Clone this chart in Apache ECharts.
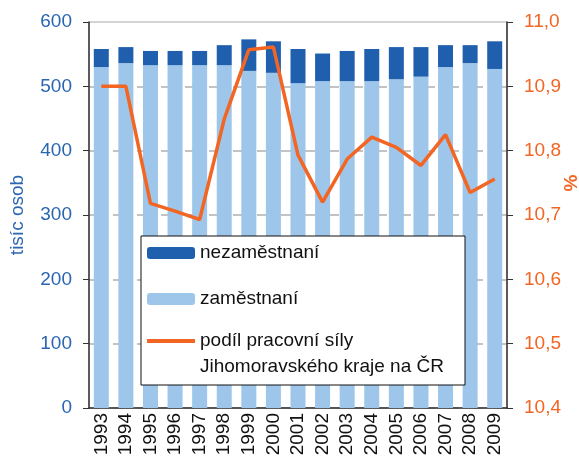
<!DOCTYPE html>
<html>
<head>
<meta charset="utf-8">
<script src="https://cdn.jsdelivr.net/npm/echarts@6/dist/echarts.min.js"></script>
<style>
html,body{margin:0;padding:0;background:#fff;}
#chart{width:579px;height:464px;}
</style>
</head>
<body>
<div id="chart"></div>
<script>
var roky = ['1993','1994','1995','1996','1997','1998','1999','2000','2001','2002','2003','2004','2005','2006','2007','2008','2009'];
// tisíc osob
var zamestnani = [530,536,533,533,533,533,524,521,505,508,508,508,511,515,530,536,527];
var nezamestnani = [28,25,22,22,22,31,49,49,53,43,47,50,50,46,34,28,43];
// podíl v %
var podil = [10.90,10.90,10.718,10.706,10.693,10.849,10.957,10.961,10.793,10.72,10.787,10.821,10.805,10.777,10.825,10.735,10.756];
var leveTicks = [0,600,100];
var praveTicks = [10.4,11.0,0.1];

var modra = '#2a66b1';
var oranz = '#f26522';
var font = 'Liberation Sans, Arial, sans-serif';

var chart = echarts.init(document.getElementById('chart'));
var option = {
    animation: false,
    textStyle: {fontFamily: font},
    grid: {left: 89, right: 72, top: 22, bottom: 56, outerBoundsMode: 'none',
        show: true, borderColor: '#aaa', borderWidth: 1},
    legend: [{
        orient: 'vertical',
        left: 147, top: 243, padding: 0, z: 20,
        itemWidth: 48, itemHeight: 12, itemGap: 26,
        textStyle: {fontFamily: font, fontSize: 19, lineHeight: 20, color: '#111'},
        data: ['nezaměstnaní', 'zaměstnaní']
    }, {
        orient: 'vertical',
        left: 147, top: 302, padding: 0, z: 20,
        itemWidth: 48, itemHeight: 4, icon: 'rect',
        textStyle: {fontFamily: font, fontSize: 19, lineHeight: 26, color: '#111'},
        // prázdný první řádek, aby první řádek textu ležel u čáry
        formatter: function (n) { return ' \npodíl pracovní síly\nJihomoravského kraje na ČR'; },
        data: ['podíl pracovní síly Jihomoravského kraje na ČR']
    }],
    graphic: [{
        type: 'rect', z: 15,
        shape: {x: 141, y: 236, width: 324, height: 149},
        style: {fill: '#fff', stroke: '#111', lineWidth: 1}
    }],
    xAxis: {
        type: 'category',
        data: roky,
        axisLine: {lineStyle: {color: '#333', width: 1.5}},
        axisTick: {length: 6, lineStyle: {color: '#333'}},
        axisLabel: {rotate: 90, interval: 0, fontSize: 19, color: '#111', margin: 5, fontFamily: font}
    },
    yAxis: [{
        type: 'value',
        min: leveTicks[0], max: leveTicks[1], interval: leveTicks[2],
        name: 'tisíc osob', nameLocation: 'middle', nameGap: 62, nameMoveOverlap: false,
        nameTextStyle: {color: modra, fontSize: 19, fontFamily: font},
        axisLine: {show: true, lineStyle: {color: '#333', width: 1.5}},
        axisTick: {show: true, length: 6, lineStyle: {color: '#333'}},
        axisLabel: {color: modra, fontSize: 19, margin: 17, fontFamily: font},
        splitLine: {showMaxLine: false, lineStyle: {color: '#b0b0b0', width: 1.5, type: [10, 14]}}
    }, {
        type: 'value',
        min: praveTicks[0], max: praveTicks[1], interval: praveTicks[2],
        name: '%', nameLocation: 'middle', nameGap: 55, nameMoveOverlap: false,
        nameTextStyle: {color: oranz, fontSize: 19, fontWeight: 'bold', fontFamily: font,
            padding: [0, 0, 0, 64]},
        axisLine: {show: true, lineStyle: {color: '#333', width: 1.5}},
        axisTick: {show: true, length: 6, lineStyle: {color: '#333'}},
        axisLabel: {color: oranz, fontSize: 19, margin: 17, fontFamily: font,
            formatter: function (v) { return v.toFixed(1).replace('.', ','); }},
        splitLine: {show: false}
    }],
    series: [{
        name: 'zaměstnaní',
        type: 'bar', stack: 'osoby', barWidth: 15,
        itemStyle: {color: '#9dc6ea'},
        data: zamestnani
    }, {
        name: 'nezaměstnaní',
        type: 'bar', stack: 'osoby', barWidth: 15,
        itemStyle: {color: '#1f5fae'},
        data: nezamestnani
    }, {
        name: 'podíl pracovní síly Jihomoravského kraje na ČR',
        type: 'line', yAxisIndex: 1, z: 5,
        symbol: 'none',
        lineStyle: {color: oranz, width: 3.5},
        itemStyle: {color: oranz},
        data: podil
    }]
};
chart.setOption(option);
</script>
</body>
</html>
